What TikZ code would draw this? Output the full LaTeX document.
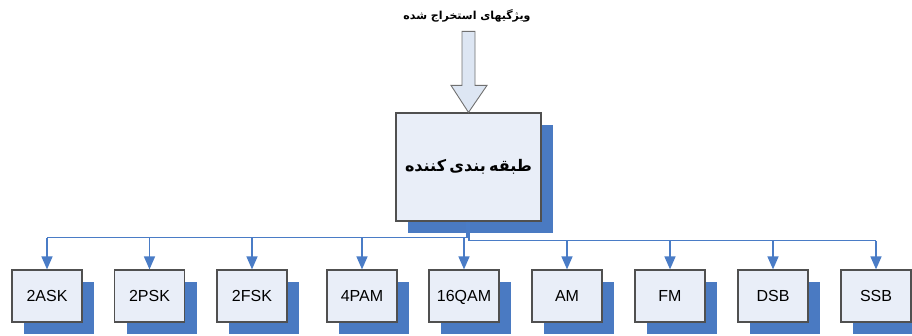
\documentclass[tikz,border=0pt]{standalone}
\usepackage{fontspec}
\setmainfont{Liberation Sans}
\newfontfamily\arabicfont[Script=Arabic]{DejaVu Sans}
\TeXXeTstate=1
\usetikzlibrary{arrows.meta,shadows,calc}
\definecolor{boxfill}{HTML}{E9EEF8}
\definecolor{boxborder}{HTML}{505050}
\definecolor{shadowblue}{HTML}{4A7AC2}
\definecolor{linkblue}{HTML}{4A7CC6}
\definecolor{arrowfill}{HTML}{DDE6F3}
\definecolor{arrowborder}{HTML}{707070}
\begin{document}
\begin{tikzpicture}[x=1pt,y=-1pt,
  boxshadow/.style={drop shadow={shadow xshift=12pt, shadow yshift=-12pt, opacity=1, fill=shadowblue}},
  modbox/.style={draw=boxborder, line width=1.2pt, fill=boxfill, minimum width=70pt, minimum height=52pt, inner sep=0pt, text height=11.5pt, text depth=0pt, boxshadow, font=\fontsize{16}{19}\selectfont},
  classbox/.style={draw=boxborder, line width=1.2pt, fill=boxfill, minimum width=145pt, minimum height=108pt, text width=145pt, align=center, inner sep=0pt, boxshadow},
  link/.style={draw=linkblue, line width=1.5pt},
  linkarrow/.style={link, -{Triangle[length=13pt,width=11pt]}},
  bigarrow/.style={draw=arrowborder, line width=0.9pt, fill=arrowfill, line join=miter}
]
\useasboundingbox (0,0) rectangle (912,335);
% title
\node (title) at (467,16) {\arabicfont\bfseries\fontsize{11}{14}\selectfont\beginR ویژگیهای استخراج شده\endR};
% main classifier
\node[classbox] (main) at (468.5,167) {\arabicfont\bfseries\fontsize{16}{20}\selectfont\beginR طبقه بندی کننده\endR};
% big input arrow
\coordinate (tip) at (main.north);
\draw[bigarrow] ($(tip)+(-6.5,-81)$) -- ($(tip)+(6.5,-81)$) -- ($(tip)+(6.5,-27)$) -- ($(tip)+(18.5,-27)$) -- (tip) -- ($(tip)+(-17.5,-27)$) -- ($(tip)+(-6.5,-27)$) -- cycle;
% modulation boxes
\node[modbox] (b1) at (47,296) {2ASK};
\node[modbox] (b2) at (149.5,296) {2PSK};
\node[modbox] (b3) at (252,296) {2FSK};
\node[modbox] (b4) at (362,296) {4PAM};
\node[modbox] (b5) at (464,296) {16QAM};
\node[modbox] (b6) at (567,296) {AM};
\node[modbox] (b7) at (670,296) {FM};
\node[modbox] (b8) at (773,296) {DSB};
\node[modbox] (b9) at (876,296) {SSB};
% bus
\coordinate (jl) at ($(main.south)+(-1.5,16)$);
\coordinate (jr) at ($(main.south)+(0.5,19)$);
\draw[link] ($(main.south)+(0.5,0)$) -- (jr) -- (jr -| b9);
\draw[link] ($(main.south)+(-1.5,0)$) -- (jl) -- (jl -| b1);
\foreach \b in {b1,b2,b3,b4,b5} {
  \draw[linkarrow] (jl -| \b) -- (\b.north);
}
\foreach \b in {b6,b7,b8,b9} {
  \draw[linkarrow] (jr -| \b) -- (\b.north);
}
\end{tikzpicture}
\end{document}
